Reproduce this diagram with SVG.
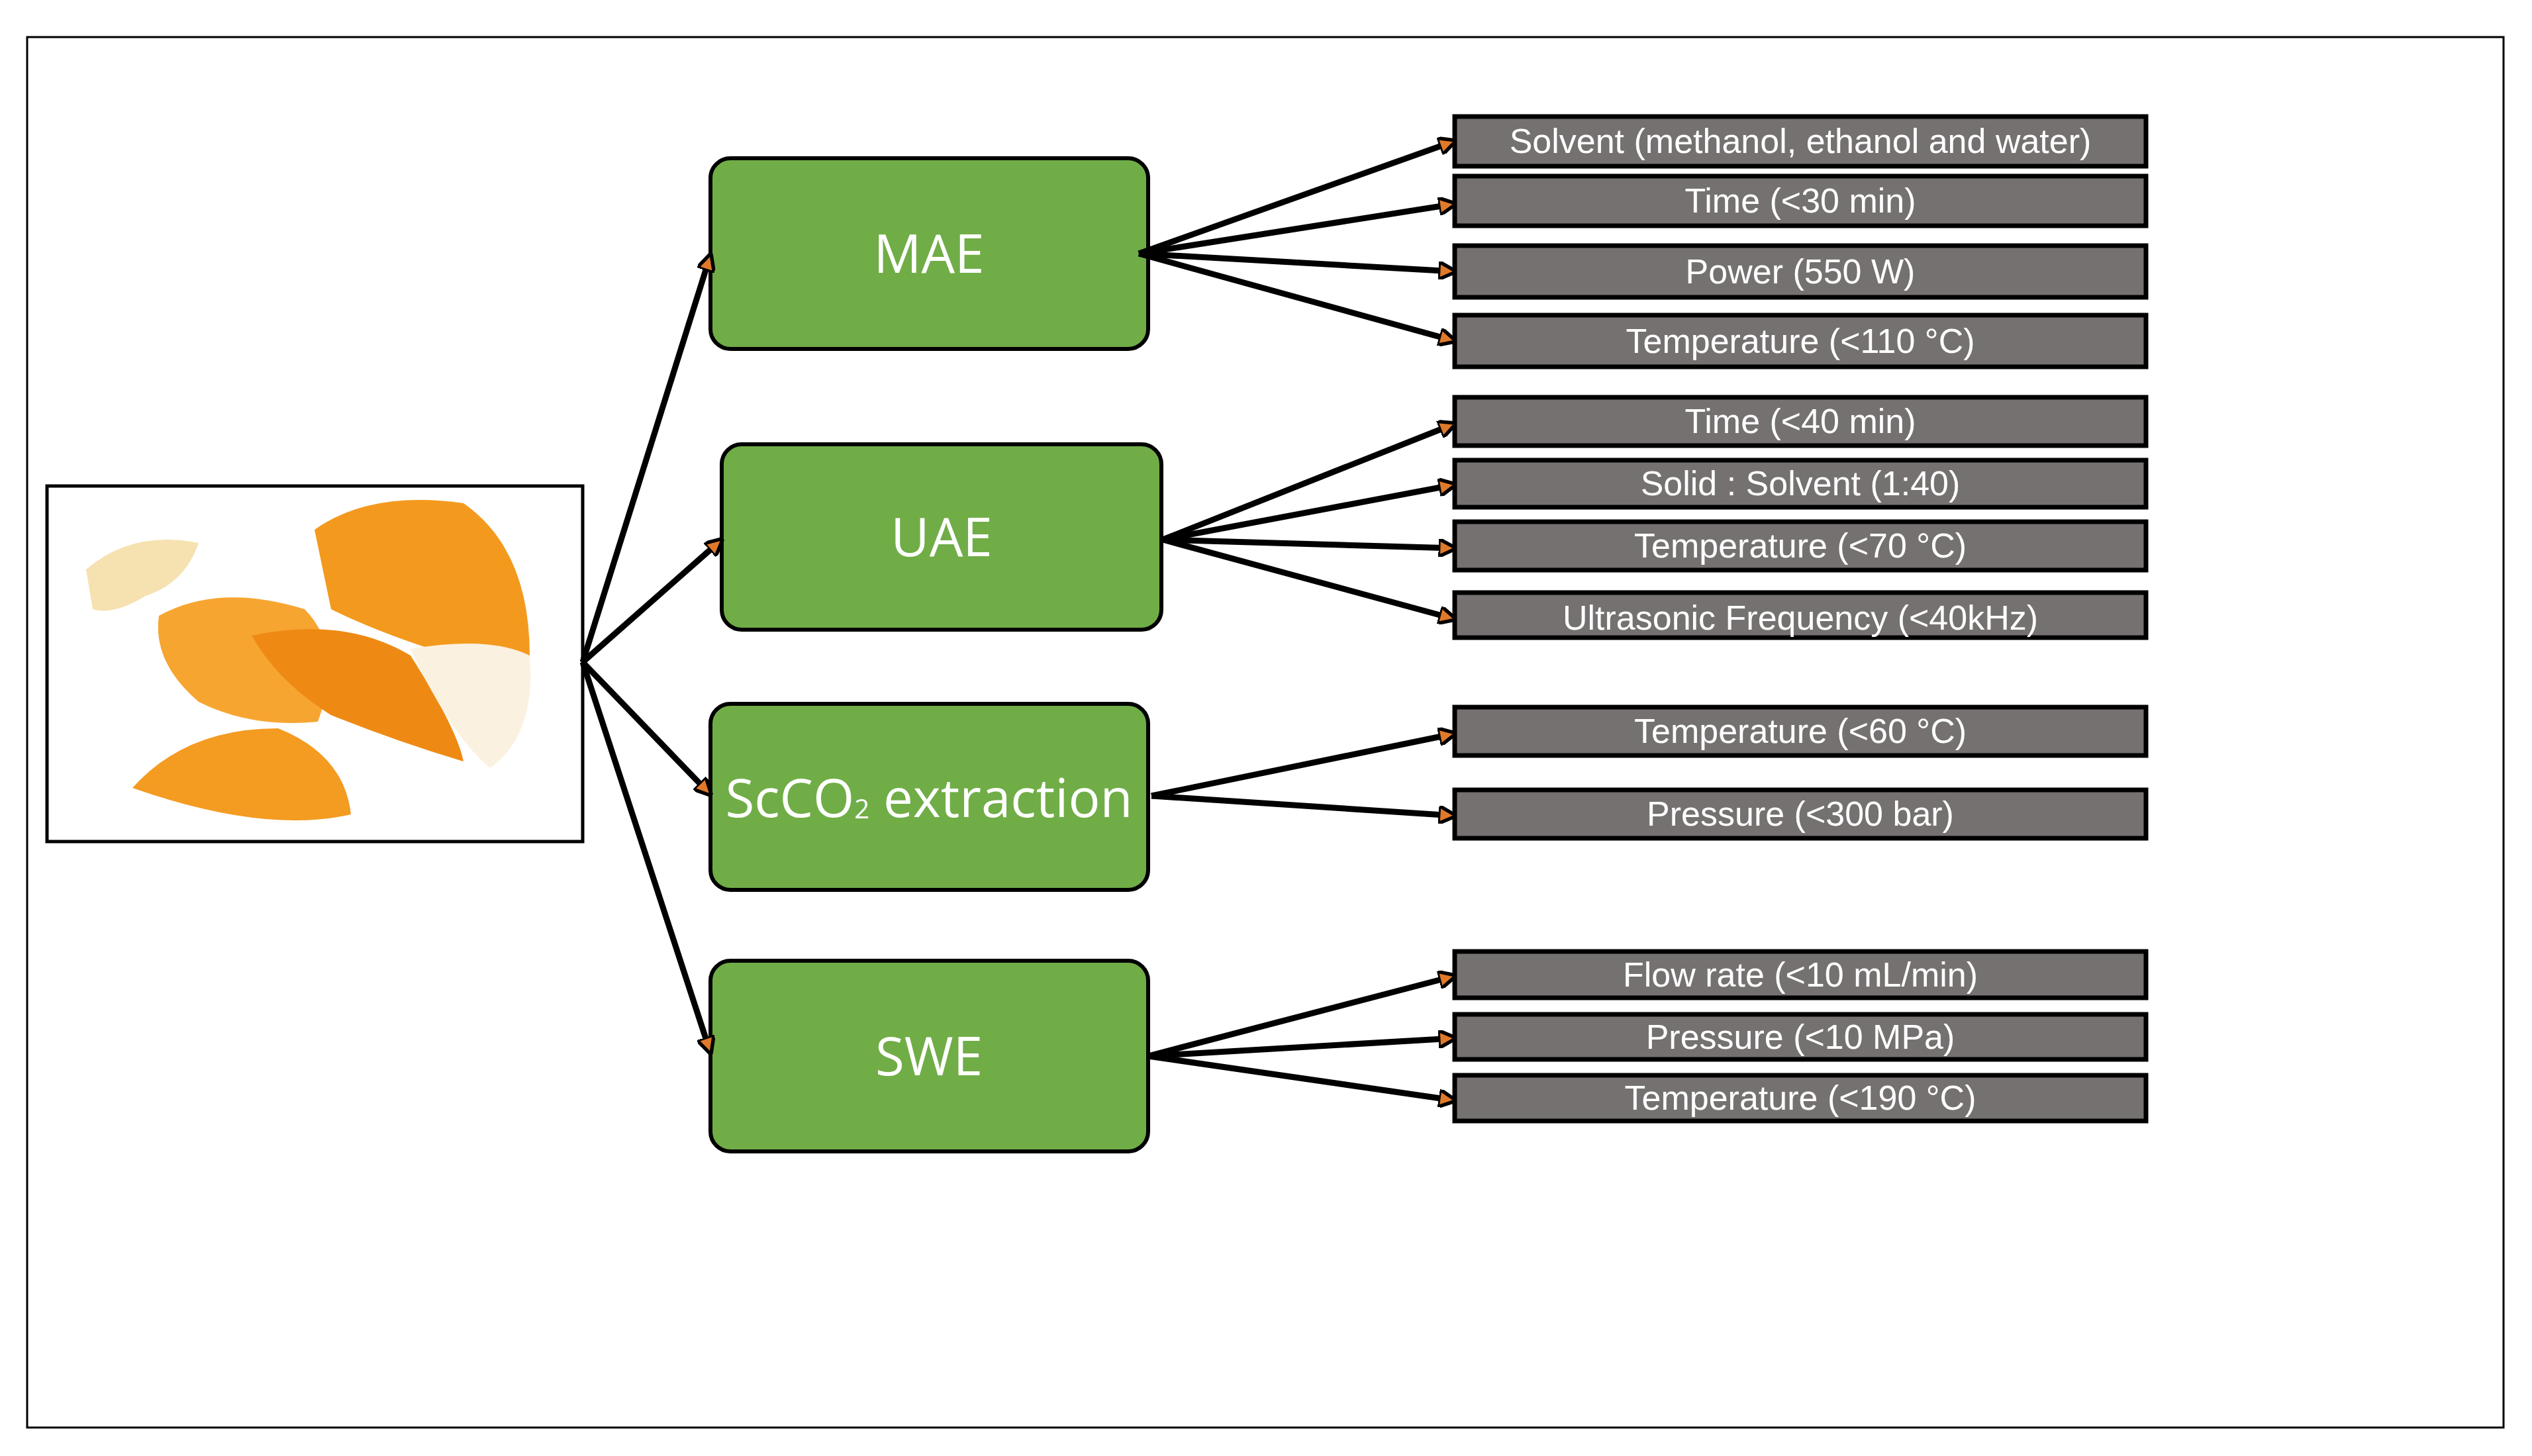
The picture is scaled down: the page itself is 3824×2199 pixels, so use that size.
<svg xmlns="http://www.w3.org/2000/svg" width="3824" height="2199" viewBox="0 0 3824 2199">
<style>
.g{fill:#70AD47;stroke:#000;stroke-width:6}
.p{fill:#767171;stroke:#000;stroke-width:7}
.gt{font-family:"Open Sans","Liberation Sans",sans-serif;font-size:80px;fill:#fff;text-anchor:middle;dominant-baseline:central}
.pt{font-family:"Liberation Sans",sans-serif;font-size:52px;fill:#fff;text-anchor:middle;dominant-baseline:central}
.c line{stroke:#000;stroke-width:9;marker-end:url(#a)}
</style>
<defs>
<marker id="a" viewBox="0 0 10 10" refX="9" refY="5" markerWidth="3" markerHeight="3" orient="auto" markerUnits="strokeWidth">
<path d="M0,0L10,5L0,10z" fill="#E07A2A" stroke="#000" stroke-width="2"/>
</marker>
</defs>
<rect width="3824" height="2199" fill="#fff"/>
<rect x="41" y="56" width="3740" height="2100" fill="none" stroke="#000" stroke-width="3"/>
<g id="photo">
<rect x="71" y="734" width="809" height="537" fill="#fff" stroke="#000" stroke-width="5"/>
<path d="M130,860 Q200,800 300,820 Q280,880 220,900 Q170,930 140,920 Z" fill="#F6E2B0"/>
<path d="M475,800 Q560,740 700,760 Q800,830 800,990 Q740,1000 650,980 Q560,950 500,920 Z" fill="#F39A1E"/>
<path d="M240,930 Q330,880 460,920 Q520,980 480,1090 Q380,1100 300,1060 Q230,1000 240,930 Z" fill="#F7A531"/>
<path d="M380,960 Q520,930 620,990 Q690,1100 700,1150 Q600,1120 500,1080 Q420,1030 380,960 Z" fill="#EE8A14"/>
<path d="M620,980 Q740,960 800,990 Q810,1110 740,1160 Q680,1110 620,980 Z" fill="#FBF1E0"/>
<path d="M200,1190 Q280,1100 420,1100 Q520,1140 530,1230 Q400,1260 200,1190 Z" fill="#F49B21"/>
</g>
<g id="mae"><rect class="g" x="1073" y="239" width="661" height="288" rx="30"/><text class="gt" x="1403" y="380">MAE</text></g>
<g id="uae"><rect class="g" x="1090" y="671" width="664" height="280" rx="30"/><text class="gt" x="1422" y="808">UAE</text></g>
<g id="scco2"><rect class="g" x="1073" y="1063" width="661" height="281" rx="30"/><text class="gt" x="1403" y="1202" font-size="66">ScCO<tspan font-size="40" dy="18">2</tspan><tspan dy="-18"> extraction</tspan></text></g>
<g id="swe"><rect class="g" x="1073" y="1451" width="661" height="288" rx="30"/><text class="gt" x="1403" y="1592">SWE</text></g>
<g id="p1"><rect class="p" x="2197" y="176" width="1044" height="75"/><text class="pt" x="2719" y="213">Solvent (methanol, ethanol and water)</text></g>
<g id="p2"><rect class="p" x="2197" y="266" width="1044" height="75"/><text class="pt" x="2719" y="303">Time (&lt;30 min)</text></g>
<g id="p3"><rect class="p" x="2197" y="371" width="1044" height="78"/><text class="pt" x="2719" y="410">Power (550 W)</text></g>
<g id="p4"><rect class="p" x="2197" y="476" width="1044" height="78"/><text class="pt" x="2719" y="515">Temperature (&lt;110 °C)</text></g>
<g id="p5"><rect class="p" x="2197" y="600" width="1044" height="73"/><text class="pt" x="2719" y="636">Time (&lt;40 min)</text></g>
<g id="p6"><rect class="p" x="2197" y="695" width="1044" height="71"/><text class="pt" x="2719" y="730">Solid : Solvent (1:40)</text></g>
<g id="p7"><rect class="p" x="2197" y="788" width="1044" height="73"/><text class="pt" x="2719" y="824">Temperature (&lt;70 °C)</text></g>
<g id="p8"><rect class="p" x="2197" y="895" width="1044" height="68"/><text class="pt" x="2719" y="933">Ultrasonic Frequency (&lt;40kHz)</text></g>
<g id="p9"><rect class="p" x="2197" y="1068" width="1044" height="73"/><text class="pt" x="2719" y="1104">Temperature (&lt;60 °C)</text></g>
<g id="p10"><rect class="p" x="2197" y="1193" width="1044" height="73"/><text class="pt" x="2719" y="1229">Pressure (&lt;300 bar)</text></g>
<g id="p11"><rect class="p" x="2197" y="1437" width="1044" height="70"/><text class="pt" x="2719" y="1472">Flow rate (&lt;10 mL/min)</text></g>
<g id="p12"><rect class="p" x="2197" y="1532" width="1044" height="68"/><text class="pt" x="2719" y="1566">Pressure (&lt;10 MPa)</text></g>
<g id="p13"><rect class="p" x="2197" y="1624" width="1044" height="69"/><text class="pt" x="2719" y="1658">Temperature (&lt;190 °C)</text></g>
<g class="c" id="connectors">
<line x1="880" y1="1000" x2="1073" y2="385"/>
<line x1="880" y1="1000" x2="1090" y2="815"/>
<line x1="880" y1="1000" x2="1073" y2="1200"/>
<line x1="880" y1="1000" x2="1073" y2="1590"/>
<line x1="1720" y1="383" x2="2197" y2="213"/>
<line x1="1720" y1="383" x2="2197" y2="308"/>
<line x1="1720" y1="383" x2="2197" y2="410"/>
<line x1="1720" y1="383" x2="2197" y2="515"/>
<line x1="1756" y1="815" x2="2197" y2="640"/>
<line x1="1756" y1="815" x2="2197" y2="732"/>
<line x1="1756" y1="815" x2="2197" y2="828"/>
<line x1="1756" y1="815" x2="2197" y2="935"/>
<line x1="1739" y1="1202" x2="2197" y2="1108"/>
<line x1="1739" y1="1202" x2="2197" y2="1232"/>
<line x1="1734" y1="1595" x2="2197" y2="1474"/>
<line x1="1734" y1="1595" x2="2197" y2="1568"/>
<line x1="1734" y1="1595" x2="2197" y2="1662"/>
</g>
</svg>
